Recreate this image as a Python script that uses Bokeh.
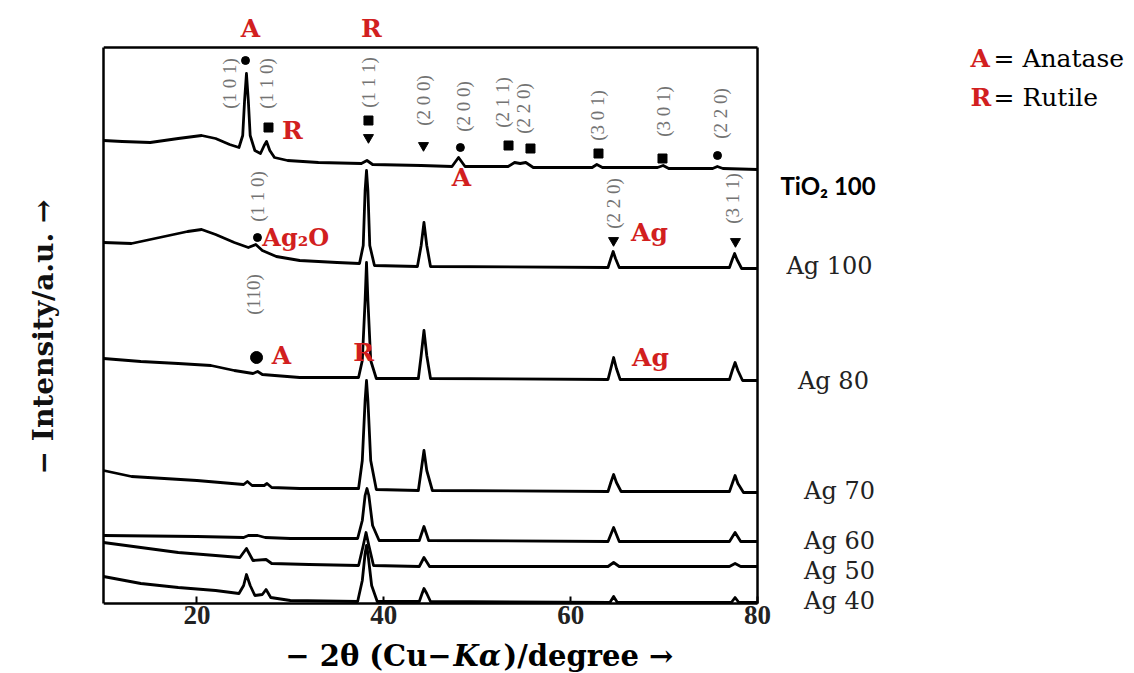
import math
from bokeh.plotting import figure
from bokeh.models import Label, FixedTicker
from bokeh.embed import file_html
from bokeh.resources import INLINE

# ---------------- data (2θ in degrees, intensity in offset a.u.) ----------------
tio2_x = [10, 12, 15, 18, 20.5, 22, 23.5, 24.5, 24.9, 25.1, 25.3, 25.5, 25.7, 26.2, 26.8, 27.2, 27.45, 27.8,
          28.3, 29.7, 33, 37.6, 38.2, 38.8, 44, 47.3, 48.0, 48.7, 53.3, 54.0, 54.6, 55.2, 56, 62.3, 62.8,
          63.4, 69.3, 69.9, 70.5, 75.2, 75.7, 76.3, 80]
tio2_y = [463, 462, 461, 465, 468, 465, 459, 456, 468, 503, 530, 503, 468, 453, 450, 458, 462, 453,
          446, 443, 441, 440, 443, 439, 438, 437, 446, 437, 437, 441, 440, 441, 436, 436, 439,
          436, 436, 438, 435, 435, 437, 435, 434]

ag100_x = [10, 13, 16, 19, 20.5, 22, 24, 25.5, 26.3, 27, 28.5, 31, 35, 37.4, 37.8, 38.0, 38.15, 38.3, 38.5,
           39.0, 43.6, 44.0, 44.3, 44.6, 45.0, 64.0, 64.3, 64.55, 64.8, 65.2, 77.0, 77.3, 77.55, 77.8, 78.3, 80]
ag100_y = [361, 360, 366, 372, 374, 369, 361, 356, 359, 353, 347, 343, 341, 340, 358, 413, 433, 413, 358,
           338, 337, 358, 381, 358, 337, 336, 345, 352, 345, 336, 336, 344, 350, 344, 335, 335]

ag80_x = [10, 14, 18, 21.5, 24, 26, 26.5, 27, 31, 37.3, 37.7, 38.0, 38.15, 38.3, 38.6, 39.2, 43.7, 44.0,
          44.3, 44.6, 45.0, 64.0, 64.3, 64.6, 64.9, 65.3, 77.0, 77.3, 77.6, 77.9, 78.4, 80]
ag80_y = [245, 242, 240, 238, 233, 230, 232, 229, 226, 226, 243, 303, 341, 303, 243, 225, 225, 248,
          273, 248, 225, 224, 235, 246, 235, 224, 224, 233, 241, 233, 223, 223]

ag70_x = [10, 13, 20, 25.0, 25.4, 25.9, 27.2, 27.5, 28, 31, 37.3, 37.7, 38.0, 38.15, 38.3, 38.6, 39.2,
          43.7, 44.0, 44.3, 44.6, 45.2, 64.0, 64.3, 64.6, 64.9, 65.4, 77.0, 77.3, 77.6, 77.9, 78.5, 80]
ag70_y = [133, 127, 123, 119, 122, 118, 118, 120, 116, 115, 115, 143, 203, 223, 203, 143, 114,
          113, 133, 153, 133, 113, 112, 121, 129, 121, 112, 112, 120, 128, 120, 111, 111]

ag60_x = [10, 20, 25.0, 25.5, 26.5, 27.3, 30, 37.2, 37.7, 38.0, 38.2, 38.4, 38.8, 39.5, 43.8, 44.3, 44.8,
          64.0, 64.6, 65.2, 77.0, 77.6, 78.2, 80]
ag60_y = [68, 67, 66, 68, 68, 66, 65, 65, 83, 108, 115, 108, 78, 63, 63, 77, 63,
          62, 76, 62, 62, 71, 62, 62]

ag50_x = [10, 14, 18, 22, 24.6, 25.3, 26.0, 27.4, 28, 32, 37.3, 37.8, 38.1, 38.4, 38.9, 43.8, 44.3, 44.9,
          64.0, 64.6, 65.2, 77.0, 77.6, 78.2, 80]
ag50_y = [61, 56, 51, 48, 46, 55, 43, 44, 40, 39, 38, 58, 71, 58, 38, 37, 46, 37,
          37, 41, 37, 37, 40, 37, 37]

ag40_x = [10, 14, 18, 22, 24.5, 25.0, 25.3, 25.7, 26.2, 27.0, 27.4, 27.9, 30, 37.2, 37.7, 38.0, 38.15, 38.3,
          38.7, 39.3, 43.8, 44.1, 44.3, 44.6, 45.0, 64.2, 64.6, 65.0, 77.2, 77.6, 78.0, 80]
ag40_y = [27, 20, 16, 13, 10, 18, 29, 18, 8, 9, 14, 6, 3, 2, 23, 50, 58, 50,
          18, 2, 2, 10, 15, 10, 2, 1, 7, 1, 1, 6, 1, 1]

series = [(tio2_x, tio2_y), (ag100_x, ag100_y), (ag80_x, ag80_y), (ag70_x, ag70_y),
          (ag60_x, ag60_y), (ag50_x, ag50_y), (ag40_x, ag40_y)]

sample_names = ["Ag 100", "Ag 80", "Ag 70", "Ag 60", "Ag 50", "Ag 40"]
sample_label_x = [87.71, 88.13, 88.78, 88.78, 88.78, 88.78]
sample_label_y = [338, 223, 113, 63, 33, 3]

x_ticks = [20, 40, 60, 80]
X_MIN, X_MAX = 10, 80
Y_TOP = 556

# phase markers
circle_x = [25.2, 48.2, 75.72, 26.48]
circle_y = [543, 456, 448, 366]
square_x = [27.66, 38.36, 53.35, 55.7, 62.98, 69.83]
square_y = [476, 483, 458, 455, 450, 445]
tri_x = [38.36, 44.25, 64.59, 77.64]
tri_y = [466, 458, 363, 362]
big_circle_x = [26.38]
big_circle_y = [246]

# Miller index labels
hkl_text = ["(1 0 1)", "(1 1 0)", "(1 1 1)", "(2 0 0)", "(2 0 0)", "(2 1 1)", "(2 2 0)", "(3 0 1)",
            "(3 0 1)", "(2 2 0)", "(1 1 0)", "(2 2 0)", "(3 1 1)", "(110)"]
hkl_x = [23.49, 27.45, 38.36, 44.25, 48.53, 52.7, 54.95, 62.87, 69.94, 76.04, 26.48, 64.59, 77.32, 26.05]
hkl_y = [520, 520, 521, 503, 497, 501, 495, 488, 492, 490, 407, 400, 405, 309]

# phase letters (red)
phase_text = ["A", "R", "R", "A", "Ag", "A", "R", "Ag"]
phase_x = [25.73, 38.68, 30.23, 48.32, 68.44, 29.05, 37.83, 68.55]
phase_y = [575, 575, 473, 426, 371, 248, 251, 246]

# ---------------- figure ----------------
RED = "#d21f1f"
SERIF = "Liberation Serif"
WIDE = "DejaVu Serif"

# frame covers the canvas right of the y axis so every text can be drawn in data space
p = figure(width=1134, height=673, output_backend="svg", toolbar_location=None,
           x_range=(10, 120.35), y_range=(-70, 603),
           min_border_left=103, min_border_right=0, min_border_top=0, min_border_bottom=0)
p.background_fill_color = "white"
p.border_fill_color = "white"
p.grid.visible = False
p.outline_line_color = None

ax = p.xaxis[0]
ax.fixed_location = 0
ax.ticker = FixedTicker(ticks=x_ticks)
ax.bounds = (X_MIN, X_MAX)
ax.major_tick_in = 7
ax.major_tick_out = 0
ax.minor_tick_line_color = None
ax.axis_line_width = 2.5
ax.major_tick_line_width = 2
ax.major_label_text_font = SERIF
ax.major_label_text_font_style = "bold"
ax.major_label_text_font_size = "27px"
ax.major_label_text_color = "#222222"
ax.major_label_standoff = 2

ay = p.yaxis[0]
ay.ticker = FixedTicker(ticks=[])
ay.bounds = (0, Y_TOP)
ay.major_tick_in = 0
ay.major_tick_out = 0
ay.minor_tick_line_color = None
ay.major_label_text_font_size = "0px"
ay.axis_line_width = 2.5
ay.axis_label = "− Intensity/a.u. →"
ay.axis_label_text_font = WIDE
ay.axis_label_text_font_style = "bold"
ay.axis_label_text_font_size = "28px"
ay.axis_label_text_color = "#111111"
ay.axis_label_standoff = 44

# top and right sides of the frame box
p.segment(x0=[X_MIN, X_MAX], y0=[Y_TOP, 0], x1=[X_MAX, X_MAX], y1=[Y_TOP, Y_TOP],
          line_color="black", line_width=2.5)

for xs, ys in series:
    p.line(xs, ys, line_color="black", line_width=2.8, line_join="round")

p.scatter(circle_x, circle_y, marker="circle", size=8, color="black")
p.scatter(big_circle_x, big_circle_y, marker="circle", size=12, color="black")
p.scatter(square_x, square_y, marker="square", size=9, color="black")
p.scatter(tri_x, tri_y, marker="inverted_triangle", size=10, color="black")


def lab(x, y, text, size, color="black", style="normal", font=SERIF, align="center", angle=0.0):
    p.add_layout(Label(x=x, y=y, text=text, text_font=font, text_font_size=size,
                       text_font_style=style, text_color=color, text_align=align,
                       text_baseline="middle", angle=angle))


for t, x, y in zip(hkl_text, hkl_x, hkl_y):
    lab(x, y, t, "19px", color="#737373", angle=math.pi / 2)

for t, x, y in zip(phase_text, phase_x, phase_y):
    lab(x, y, t, "25px", color=RED, style="bold", font=WIDE)

lab(27.0, 366, "Ag₂O", "24px", color=RED, style="bold", font=WIDE, align="left")

# right-hand sample labels
lab(82.46, 418, "TiO₂ 100", "24px", style="bold", font="Lato", align="left")
for t, x, y in zip(sample_names, sample_label_x, sample_label_y):
    lab(x, y, t, "24px", color="#222222", font=WIDE)

# phase legend
lab(102.8, 545, "A", "25px", color=RED, style="bold", font=WIDE, align="left")
lab(105.26, 545, "= Anatase", "25px", font=WIDE, align="left")
lab(102.8, 506, "R", "25px", color=RED, style="bold", font=WIDE, align="left")
lab(105.26, 506, "= Rutile", "25px", font=WIDE, align="left")

# x-axis title with italic K-alpha
lab(47.25, -52, "− 2θ (Cu−", "29px", style="bold", font=WIDE, align="right")
lab(47.46, -52, "Kα", "29px", style="bold italic", font=WIDE, align="left")
lab(52.81, -52, ")/degree →", "29px", style="bold", font=WIDE, align="left")

open("out.html", "w").write(file_html(p, INLINE))
